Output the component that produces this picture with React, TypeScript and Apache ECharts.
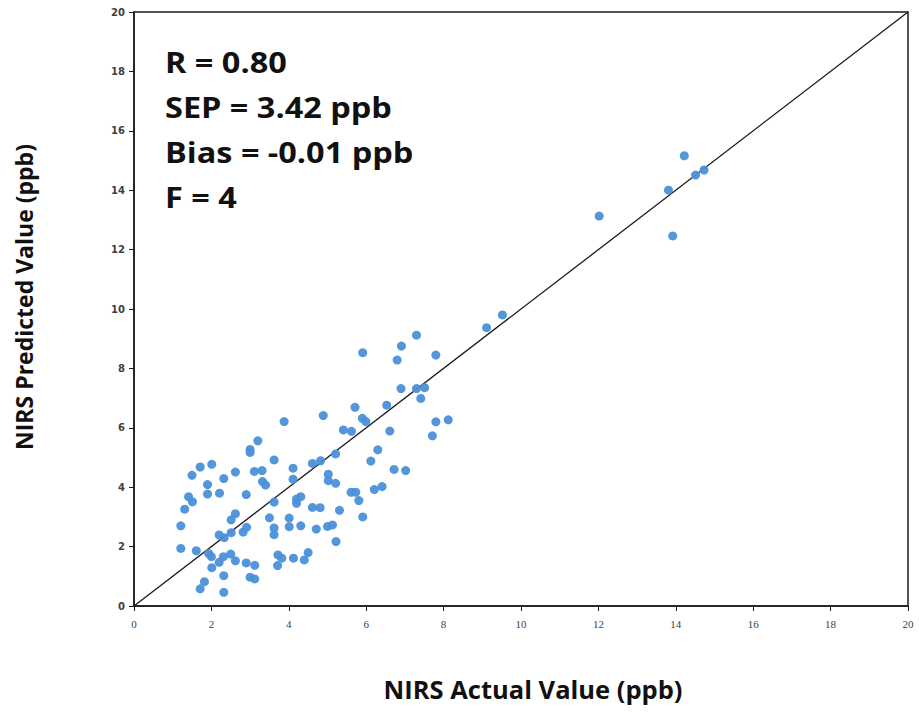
import React, { useEffect, useRef } from "react";
import * as echarts from "echarts";

const actualValues: number[] = [
  4.89, 3.88, 3.2, 3.0, 3.0, 3.62, 2.01, 1.71, 1.5, 2.62, 3.11, 3.31, 2.32, 1.9, 1.9, 2.21, 3.32, 3.4,
  4.11, 4.11, 4.61, 4.82, 2.9, 1.41, 1.51, 1.31, 1.21, 1.21, 1.61, 1.93, 2.0, 2.01, 1.82, 1.71, 2.32,
  2.32, 2.2, 2.31, 2.5, 2.62, 2.2, 2.33, 2.51, 2.51, 2.62, 2.82, 2.91, 2.9, 3.12, 3.0, 3.12, 3.5, 3.62,
  3.62, 3.62, 3.72, 3.82, 3.71, 4.12, 4.4, 4.5, 4.01, 4.01, 4.31, 4.71, 5.0, 4.2, 4.31, 4.2, 4.61, 4.81,
  7.3, 6.91, 5.91, 6.8, 7.8, 6.9, 7.3, 7.51, 7.41, 5.71, 6.53, 5.9, 5.99, 5.41, 5.62, 6.61, 7.8, 8.12,
  7.71, 6.3, 6.12, 6.72, 7.02, 5.21, 5.02, 5.02, 5.21, 5.61, 5.73, 5.81, 6.21, 6.41, 5.91, 5.31, 5.13,
  5.22, 9.52, 9.11, 14.22, 14.51, 14.73, 13.81, 12.02, 13.92,
];
const predictedValues: number[] = [
  6.41, 6.21, 5.56, 5.27, 5.17, 4.92, 4.77, 4.68, 4.4, 4.51, 4.53, 4.56, 4.29, 4.09, 3.77, 3.8, 4.19, 4.07,
  4.64, 4.27, 4.8, 4.89, 3.75, 3.68, 3.51, 3.26, 2.7, 1.94, 1.86, 1.77, 1.66, 1.29, 0.82, 0.58, 0.46,
  1.02, 1.47, 1.66, 1.75, 1.52, 2.39, 2.3, 2.47, 2.9, 3.11, 2.49, 2.65, 1.45, 1.37, 0.97, 0.91, 2.97, 3.5,
  2.63, 2.4, 1.72, 1.61, 1.36, 1.61, 1.55, 1.8, 2.96, 2.67, 2.7, 2.59, 2.68, 3.6, 3.68, 3.46, 3.32, 3.31,
  9.12, 8.75, 8.53, 8.28, 8.45, 7.32, 7.32, 7.35, 6.99, 6.69, 6.76, 6.32, 6.21, 5.93, 5.88, 5.89, 6.2, 6.27,
  5.73, 5.26, 4.88, 4.6, 4.56, 5.12, 4.44, 4.22, 4.13, 3.83, 3.83, 3.55, 3.92, 4.02, 3.0, 3.22, 2.73,
  2.17, 9.8, 9.37, 15.16, 14.51, 14.68, 14.0, 13.13, 12.46,
];
const identityLine: number[][] = [
  [0, 0],
  [20, 20],
];
const statLines: string[] = ["R = 0.80", "SEP = 3.42 ppb", "Bias = -0.01 ppb", "F = 4"];
const xTitle = "NIRS Actual Value (ppb)";
const yTitle = "NIRS Predicted Value (ppb)";

export default function App() {
  const ref = useRef<HTMLDivElement>(null);
  useEffect(() => {
    if (!ref.current) return;
    const chart = echarts.init(ref.current, null, { renderer: "svg" });
    const points = actualValues.map((x, i) => [x, predictedValues[i]]);
    const lineTop = 62;
    const lineGap = 44.8;
    chart.setOption({
      animation: false,
      backgroundColor: "#ffffff",
      grid: {
        left: 134,
        right: 11,
        top: 12,
        bottom: 106,
        show: true,
        borderColor: "#1a1a1a",
        borderWidth: 1.5,
      },
      xAxis: {
        type: "value",
        min: 0,
        max: 20,
        interval: 2,
        axisLine: { show: true, lineStyle: { color: "#1a1a1a", width: 1.5 } },
        axisTick: { show: true, length: 5, lineStyle: { color: "#1a1a1a" } },
        axisLabel: {
          margin: 12,
          fontFamily: "Liberation Sans Narrow",
          fontSize: 11,
          color: "#404040",
        },
        splitLine: { show: false },
      },
      yAxis: {
        type: "value",
        min: 0,
        max: 20,
        interval: 2,
        axisLine: { show: true, lineStyle: { color: "#1a1a1a", width: 1.5 } },
        axisTick: { show: true, length: 5, lineStyle: { color: "#1a1a1a" } },
        axisLabel: {
          margin: 9,
          fontFamily: "DejaVu Sans",
          fontWeight: "bold",
          fontSize: 10,
          color: "#404040",
        },
        splitLine: { show: false },
      },
      series: [
        {
          type: "line",
          data: identityLine,
          symbol: "none",
          lineStyle: { color: "#1a1a1a", width: 1.3 },
          silent: true,
          z: 1,
        },
        {
          type: "scatter",
          data: points,
          symbol: "circle",
          symbolSize: 9,
          itemStyle: { color: "#4a90d9", opacity: 0.95 },
          z: 2,
        },
      ],
      graphic: [
        ...statLines.map((t, i) => ({
          type: "text",
          x: 165,
          y: lineTop + i * lineGap,
          scaleX: 1.12,
          style: {
            text: t,
            font: "bold 29px 'Open Sans'",
            fill: "#111",
            verticalAlign: "middle",
          },
        })),
        {
          type: "text",
          x: 533,
          y: 689,
          style: {
            text: xTitle,
            font: "bold 25.5px 'Open Sans'",
            fill: "#111",
            align: "center",
            verticalAlign: "middle",
          },
        },
        {
          type: "text",
          x: 24,
          y: 297,
          rotation: Math.PI / 2,
          style: {
            text: yTitle,
            font: "bold 23px 'Open Sans'",
            fill: "#111",
            align: "center",
            verticalAlign: "middle",
          },
        },
      ],
    });
    return () => chart.dispose();
  }, []);
  return (
    <div
      ref={ref}
      style={{ position: "fixed", left: 0, top: 0, width: 919, height: 712 }}
    />
  );
}
